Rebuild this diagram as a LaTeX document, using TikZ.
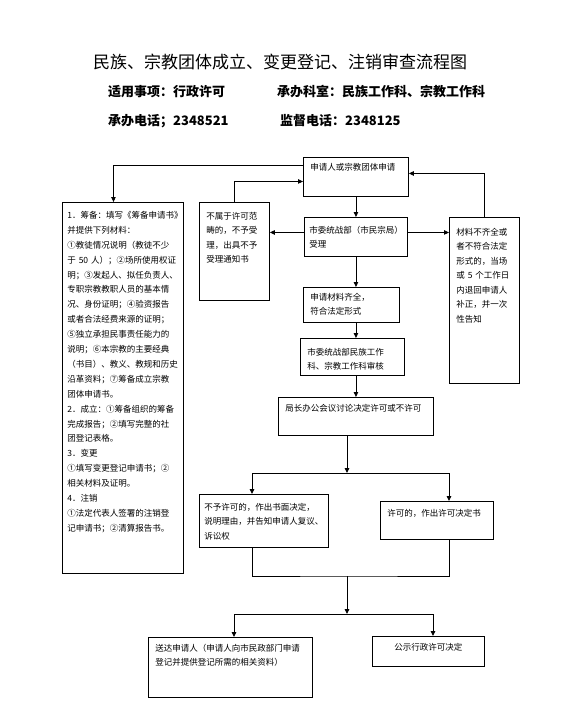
\documentclass[tikz,border=0pt]{standalone}
\usepackage{fontspec}
\setmainfont{Noto Sans CJK SC}
\usetikzlibrary{arrows.meta,calc}

\begin{document}
\begin{tikzpicture}[
  x=1pt, y=-1pt,
  font=\fontsize{8.5}{14.5}\selectfont,
  box/.style={draw, line width=0.9pt, anchor=north west, inner xsep=7pt, inner ysep=0pt, align=left},
  arr/.style={-{Triangle[length=5pt, width=4.5pt]}, line width=0.9pt},
  ln/.style={line width=0.9pt},
  ttl/.style={font=\fontsize{17}{20}\selectfont},
  hd/.style={font=\fontsize{13}{15}\selectfont\bfseries, anchor=west, inner sep=0pt}
]
\useasboundingbox (0,0) rectangle (560,726);

% heading
\node[ttl] (title) at (280,62) {民族、宗教团体成立、变更登记、注销审查流程图};
\node[hd] (item) at (108,92) {适用事项：行政许可};
\node[hd] (office) at (277,92) {承办科室：民族工作科、宗教工作科};
\node[hd] (tel) at (108,121) {承办电话；2348521};
\node[hd] (supervise) at (280,121) {监督电话：2348125};

% boxes
\node[box, text width=91pt, text height=13pt, text depth=26pt] (apply) at (303,157)
  {申请人或宗教团体申请};
\node[box, font=\fontsize{8.5}{14.9}\selectfont, inner xsep=5pt, text width=111pt, text height=16pt, text depth=355pt] (prep) at (62,202)
  {1．筹备：填写《筹备申请书》\\
   并提供下列材料：\\
   ①教徒情况说明（教徒不少\\
   于~50~人）；②场所使用权证\\
   明；③发起人、拟任负责人、\\
   专职宗教教职人员的基本情\\
   况、身份证明；④验资报告\\
   或者合法经费来源的证明；\\
   ⑤独立承担民事责任能力的\\
   说明；⑥本宗教的主要经典\\
   （书目）、教义、教规和历史\\
   沿革资料；⑦筹备成立宗教\\
   团体申请书。\\
   2．成立：①筹备组织的筹备\\
   完成报告；②填写完整的社\\
   团登记表格。\\
   3．变更\\
   ①填写变更登记申请书；②\\
   相关材料及证明。\\
   4．注销\\
   ①法定代表人签署的注销登\\
   记申请书；②清算报告书。};
\node[box, text width=56pt, text height=17pt, text depth=81pt] (reject) at (199,202)
  {不属于许可范\\畴的，不予受\\理，出具不予\\受理通知书};
\node[box, inner xsep=5pt, text width=93pt, text height=16pt, text depth=23pt] (accept) at (304,217)
  {市委统战部（市民宗局）\\受理};
\node[box, text width=56pt, text height=18pt, text depth=148pt] (supp) at (449,217)
  {材料不齐全或\\者不符合法定\\形式的，当场\\或~5~个工作日\\内退回申请人\\补正，并一次\\性告知};
\node[box, text width=82pt, text height=13pt, text depth=22pt] (complete) at (303,287)
  {申请材料齐全，\\符合法定形式};
\node[box, text width=90pt, text height=17pt, text depth=20pt] (review) at (300,338)
  {市委统战部民族工作\\科、宗教工作科审核};
\node[box, text width=141pt, text height=14pt, text depth=24pt] (decide) at (278,397)
  {局长办公会议讨论决定许可或不许可};
\node[box, inner xsep=5pt, text width=119pt, text height=16pt, text depth=37pt] (deny) at (199,494)
  {不予许可的，作出书面决定，\\说明理由，并告知申请人复议、\\诉讼权};
\node[box, text width=99pt, text height=15pt, text depth=23pt] (grant) at (380,501)
  {许可的，作出许可决定书};
\node[box, text width=150pt, text height=14pt, text depth=46pt] (deliver) at (148,637)
  {送达申请人（申请人向市民政部门申请\\登记并提供登记所需的相关资料）};
\node[box, align=center, text width=98pt, text height=14pt, text depth=16pt] (publish) at (372,636)
  {公示行政许可决定};

% branch points
\coordinate (fork) at (347,473);
\coordinate (forkl) at (252,473);
\coordinate (forkr) at (449,473);
\coordinate (join) at (347,576);
\coordinate (outl) at (234,614);
\coordinate (outr) at (433,614);
\coordinate (out) at (347,614);

\draw[arr] ([yshift=11.5pt]apply.west) -| ([xshift=-9.5pt]prep.north);
\draw[arr] (reject.north) |- ([yshift=-4.5pt]apply.west);
\draw[arr] (supp.north) |- ([yshift=3.5pt]apply.east);
\draw[arr] (apply.south) -- (accept.north);
\draw[arr] ([yshift=4.5pt]accept.west) -- ([yshift=4.5pt]accept.west -| reject.east);
\draw[arr] ([yshift=4.5pt]accept.east) -- ([yshift=4.5pt]accept.east -| supp.west);
\draw[arr] (accept.south) -- (accept.south |- complete.north);
\draw[arr] (complete.south -| accept.south) -- (accept.south |- review.north);
\draw[arr] (review.south -| accept.south) -- (accept.south |- decide.north);
\draw[arr] (decide.south -| fork) -- (fork);
\draw[ln] (forkl) -- (forkr);
\draw[arr] (forkl) -- (forkl |- deny.north);
\draw[arr] (forkr) -- (forkr |- grant.north);
\draw[ln] (deny.south -| forkl) |- (join) -| (grant.south -| forkr);
\draw[arr] (join) -- (out);
\draw[ln] (outl) -- (outr);
\draw[arr] (outl) -- (outl |- deliver.north);
\draw[arr] (outr) -- (outr |- publish.north);
\end{tikzpicture}
\end{document}
